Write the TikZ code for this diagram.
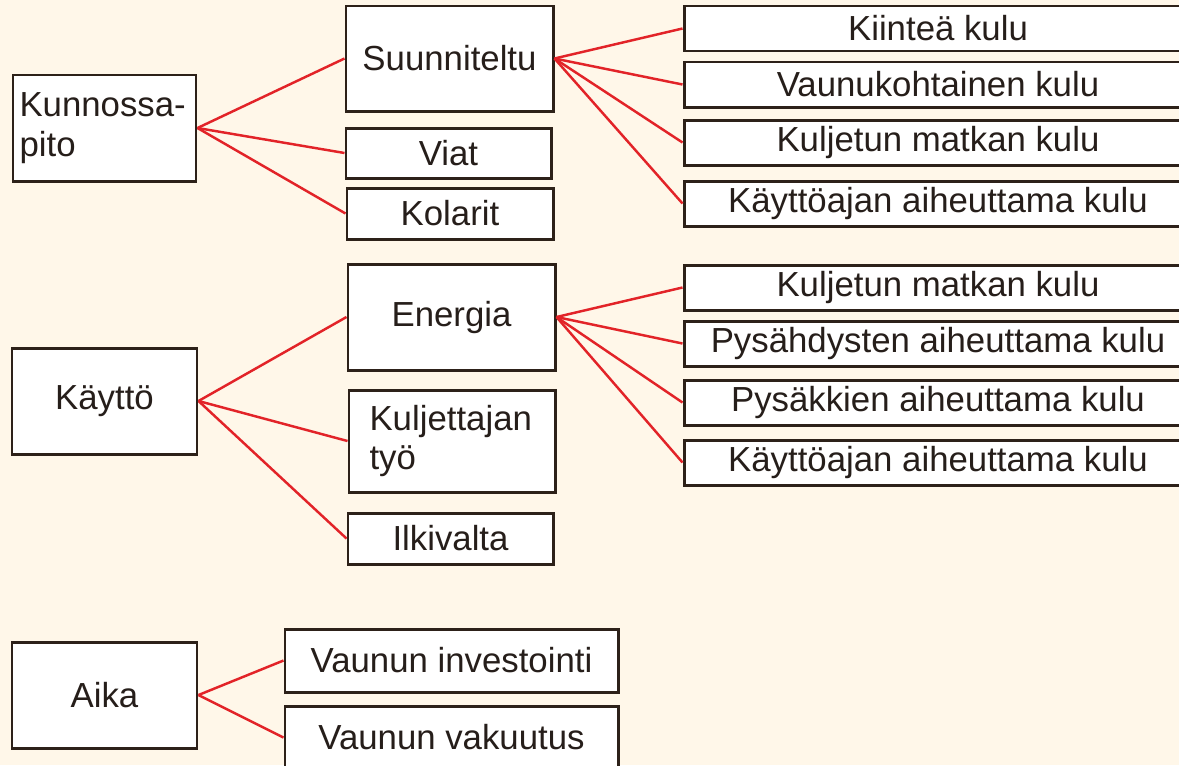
\documentclass[tikz,border=0pt]{standalone}
\usepackage{fontspec}
\setmainfont{Liberation Sans}
\usepackage{tikz}
\definecolor{mycream}{RGB}{255, 247, 233}
\definecolor{myborder}{RGB}{45, 33, 25}
\definecolor{mytext}{RGB}{38, 30, 26}
\definecolor{myred}{RGB}{226, 35, 40}
\tikzset{
  box/.style={draw = myborder, line width = 1.7pt, fill = white, text = mytext, inner sep = 0pt,
    font = \fontsize{19.8}{22.5}\selectfont},
  wh/.style 2 args={minimum width = #1*0.02cm, minimum height = #2*0.02cm},
  link/.style={draw = myred, line width = 1.4pt}
}

\begin{document}
\begin{tikzpicture}[x = 0.02cm, y = -0.02cm]
\fill[mycream] (0,0) rectangle (1179,765);
\useasboundingbox (0,0) rectangle (1179,765);

% Kunnossapito
\node[box, wh = {183}{106}, align = left, text width = 3.4cm] (kunnossapito) at (104.5, 128) {Kunnossa-\\pito};
\node[box, wh = {207}{105}] (suunniteltu) at (449.5, 58.5) {Suunniteltu};
\node[box, wh = {205}{50}] (viat) at (448.5, 153) {Viat};
\node[box, wh = {206}{51}] (kolarit) at (450, 213.5) {Kolarit};
\foreach \to in {suunniteltu, viat, kolarit}{
\draw[link] (kunnossapito.east) -- (\to.west);
}
\foreach \name/\y/\txt in {kiintea/28.5/Kiinteä kulu, vaunukohtainen/84.5/Vaunukohtainen kulu, matka/142.5/Kuljetun matkan kulu, kayttoaika/203.5/Käyttöajan aiheuttama kulu}{
\node[box, wh = {508}{45}] (\name) at (938, \y) {\txt};
\draw[link] (suunniteltu.east) -- (\name.west);
}

% Kaytto
\node[box, wh = {185}{106}] (kaytto) at (104.5, 401) {Käyttö};
\node[box, wh = {207}{106}] (energia) at (451.5, 317) {Energia};
\node[box, wh = {206}{102}, align = left, text width = 3.3cm] (kuljettaja) at (452, 441) {Kuljettajan\\työ};
\node[box, wh = {205}{51}] (ilkivalta) at (450.5, 538.5) {Ilkivalta};
\foreach \to in {energia, kuljettaja, ilkivalta}{
\draw[link] (kaytto.east) -- (\to.west);
}
\foreach \name/\y/\txt in {ematka/287.5/Kuljetun matkan kulu, pysahdys/343.5/Pysähdysten aiheuttama kulu, pysakki/402.5/Pysäkkien aiheuttama kulu, ekayttoaika/462.5/Käyttöajan aiheuttama kulu}{
\node[box, wh = {508}{45}] (\name) at (938, \y) {\txt};
\draw[link] (energia.east) -- (\name.west);
}

% Aika
\node[box, wh = {185}{106}] (aika) at (104.5, 695) {Aika};
\node[box, wh = {333}{63}] (investointi) at (451.5, 660.5) {Vaunun investointi};
\node[box, wh = {333}{63}] (vakuutus) at (451.5, 737.5) {Vaunun vakuutus};
\draw[link] (aika.east) -- (investointi.west);
\draw[link] (aika.east) -- (vakuutus.west);
\end{tikzpicture}
\end{document}
